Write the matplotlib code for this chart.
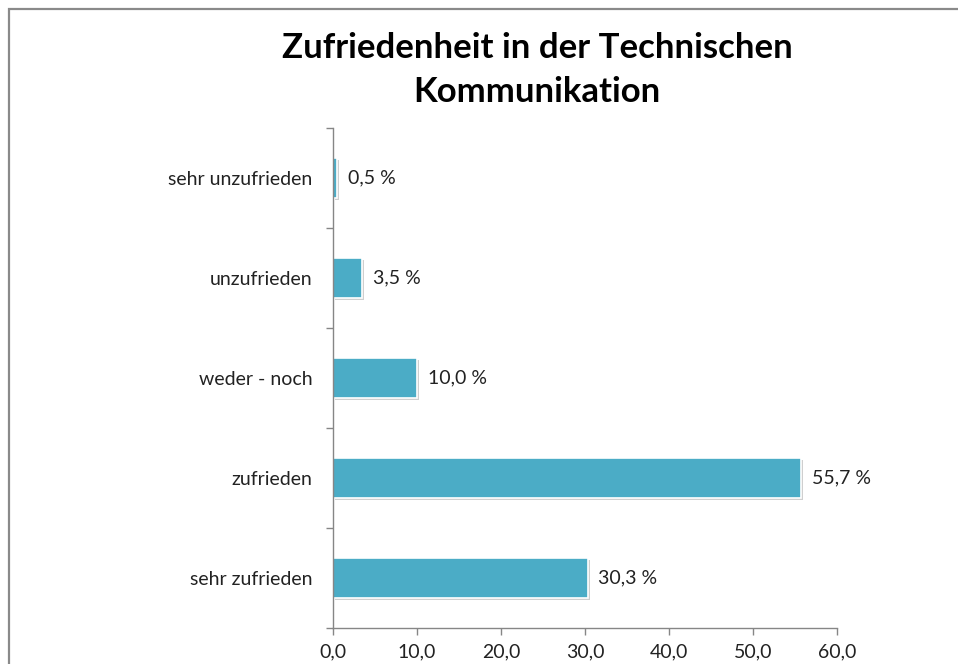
import numpy as np
import matplotlib.pyplot as plt
import matplotlib.patheffects as pe
from matplotlib.patches import Rectangle
from matplotlib.ticker import FuncFormatter, FixedLocator

# -----------------------
# data
# -----------------------
categories = ["sehr unzufrieden", "unzufrieden", "weder - noch", "zufrieden", "sehr zufrieden"]
values = [0.5, 3.5, 10.0, 55.7, 30.3]
title = "Zufriedenheit in der Technischen\nKommunikation"

plt.rcParams["font.family"] = ["Lato", "DejaVu Sans"]

def de_fmt(x, pos):
    return f"{x:.1f}".replace(".", ",")

fig = plt.figure(figsize=(9.58, 6.64), dpi=100)
ax = fig.add_axes([333 / 958, 1 - 628 / 664, 504 / 958, 500 / 664])

bar_color = "#4BACC6"
axis_gray = "#868686"

ypos = np.arange(len(categories))
bars = ax.barh(ypos, values, height=0.4, color=bar_color, edgecolor="white", linewidth=1.2)
for b in bars:
    b.set_path_effects([pe.SimplePatchShadow(offset=(1.5, -1.5), shadow_rgbFace="#c4c4c4", alpha=0.8), pe.Normal()])

for y, v in zip(ypos, values):
    ax.text(v + 1.3, y, f"{v:.1f} %".replace(".", ","), va="center", ha="left", fontsize=14, color="#222222")

ax.set_xlim(0, 60)
ax.set_ylim(len(categories) - 0.5, -0.5)
ax.set_xticks(np.arange(0, 61, 10))
ax.xaxis.set_major_formatter(FuncFormatter(de_fmt))
ax.set_yticks(ypos)
ax.set_yticklabels(categories)
ax.yaxis.set_minor_locator(FixedLocator(np.arange(-0.5, len(categories), 1.0)))

ax.tick_params(axis="y", which="major", length=0, pad=15, labelsize=14, labelcolor="#222222")
ax.tick_params(axis="y", which="minor", length=5, width=1, color=axis_gray, direction="out")
ax.tick_params(axis="x", which="major", length=5, width=1, color=axis_gray, direction="out", pad=6, labelsize=14, labelcolor="#222222")

for s in ["top", "right"]:
    ax.spines[s].set_visible(False)
for s in ["left", "bottom"]:
    ax.spines[s].set_color(axis_gray)
    ax.spines[s].set_linewidth(1)

fig.text(537 / 958, 1 - 70 / 664, title, ha="center", va="center", fontsize=25,
         fontweight="bold", linespacing=1.45, color="black")

# chart frame (cropped at right and bottom)
fig.patches.append(Rectangle((8.5 / 958, -0.1), 1.2, 1.1 - 8.5 / 664, transform=fig.transFigure,
                             fill=False, edgecolor="#8a8a8a", linewidth=1.6))

fig.savefig("out.png", dpi=100)
